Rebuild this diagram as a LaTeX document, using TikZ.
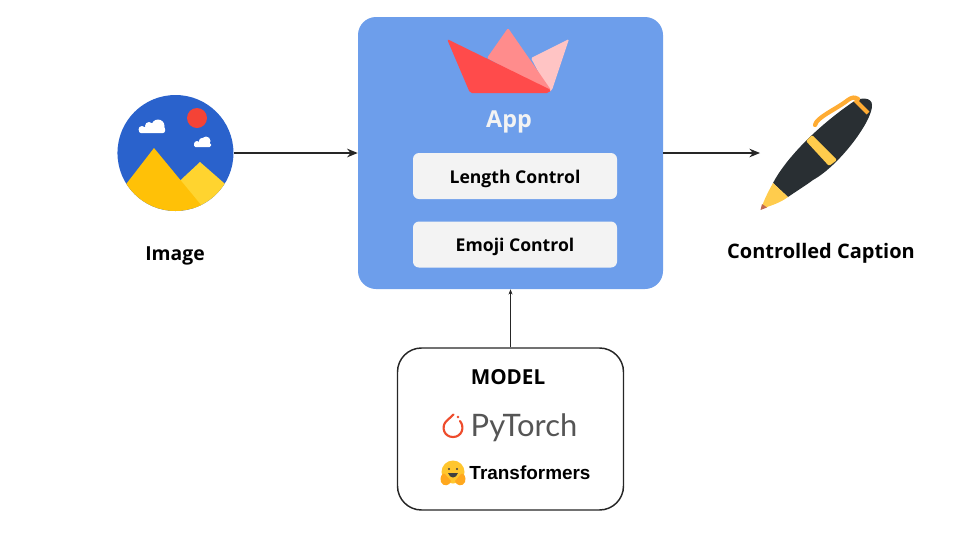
\documentclass[tikz,border=0pt]{standalone}
\usepackage{fontspec}
\setmainfont{Open Sans}
\newfontfamily\torchfont{Lato}
\newfontfamily\hugfont{Liberation Sans}
\usetikzlibrary{positioning,arrows.meta}
\definecolor{appblue}{HTML}{6D9EEB}
\definecolor{ctrlgray}{HTML}{F3F3F3}
\definecolor{skyblue}{HTML}{2A62CC}
\definecolor{sunred}{HTML}{F44336}
\definecolor{hillgold}{HTML}{FFC107}
\definecolor{hilllight}{HTML}{FFD42F}
\definecolor{boatred}{HTML}{FF4B4B}
\definecolor{boatmid}{HTML}{FF8C8C}
\definecolor{boatpale}{HTML}{FFC4C4}
\definecolor{pendark}{HTML}{292F33}
\definecolor{pengold}{HTML}{FFCC4D}
\definecolor{penclip}{HTML}{FFAC33}
\definecolor{pennib}{HTML}{C1694F}
\definecolor{torchred}{HTML}{EE4C2C}
\definecolor{torchgray}{HTML}{555555}
\definecolor{hugyellow}{HTML}{FFC62E}
\definecolor{hughand}{HTML}{FFA81E}
\tikzset{
  boxlabel/.style={font=\bfseries\fontsize{13.2}{16}\selectfont, inner sep=0pt},
  ctrlbox/.style={fill=ctrlgray, rounded corners=4.5pt, minimum width=153pt, minimum height=34.5pt, inner sep=0pt},
  flow/.style={draw=black!85, line width=0.9pt, -{Stealth[length=8pt,width=6.5pt]}},
  thinflow/.style={draw=black!85, line width=0.5pt, -{Stealth[length=4pt,width=3pt]}},
}
\begin{document}
\begin{tikzpicture}[x=0.75pt,y=-0.75pt]
  \useasboundingbox (0,0) rectangle (960,540);

  \node [fill=appblue, rounded corners=13.5pt, minimum width=228.75pt, minimum height=204pt, inner sep=0pt] (app) at (510.5,153) {};
  \node [ctrlbox] (length) at (515,176) {};
  \node [ctrlbox, below=16.5pt of length] (emoji) {};
  \node [boxlabel] (lengthlabel) at (515,179) {Length Control};
  \node [boxlabel] (emojilabel) at (515,247) {Emoji Control};
  \node [font=\bfseries\fontsize{17.5}{20}\selectfont, text=ctrlgray, inner sep=0pt] (applabel) at (509,122) {App};

  % streamlit boat
  \fill [boatpale, rounded corners=1pt] (569,39) -- (531,58) -- (549,92) -- (552,90) -- cycle;
  \fill [boatmid, rounded corners=1pt] (508,28) -- (487,58) -- (549,92) -- (551,90) -- cycle;
  \fill [boatred, rounded corners=1.5pt] (447,39) -- (470,93) -- (549,93) -- (551,90) -- cycle;

  % image icon
  \node [circle, fill=skyblue, minimum size=87pt, inner sep=0pt, left=93pt of app] (image) {};
  \begin{scope}
    \clip (image.center) circle (58);
    \fill [hilllight] (200,162) -- (240,197) -- (215,225) -- (170,190) -- cycle;
    \fill [hillgold] (154,148) -- (110,205) -- (150,240) -- (215,210) -- (201,205) -- cycle;
  \end{scope}
  \fill [sunred] (197,118) circle (10);
  \fill [white, rounded corners=1.5pt] (139,127) rectangle (165,133);
  \fill [white] (142,129.5) circle (3.5) (149,126) circle (4) (158,126) circle (6.5) (161,129) circle (4);
  \fill [white, rounded corners=1pt] (194,143) rectangle (211,147);
  \fill [white] (197,144) circle (3) (202,141) circle (3) (206,141) circle (4.5);
  \node [font=\bfseries\fontsize{14.5}{16}\selectfont, inner sep=0pt] (imagelabel) at (175,256) {Image};

  % pen
  \fill [pendark] (773,183) .. controls (785,160) and (815,128) .. (853,102)
    .. controls (860,97) and (872,97) .. (872,105)
    .. controls (873,120) and (840,165) .. (813,180)
    .. controls (805,186) and (795,192) .. (788,197) -- cycle;
  \fill [pengold] (773,183) -- (788,197) .. controls (780,203) and (770,206) .. (761,209) .. controls (764,200) and (768,192) .. (773,183) -- cycle;
  \fill [pennib] (760.5,210) -- (762,204) -- (767,207.5) -- cycle;
  \fill [pengold, rounded corners=1pt] (806,141) -- (812,135) -- (837,160) -- (829,166) -- cycle;
  \draw [penclip, line width=3.2pt, line cap=round] (815,125) .. controls (817,117) and (835,110) .. (848,100) .. controls (852,97) and (855,97) .. (858,99);
  \draw [penclip, line width=3pt] (855,100) -- (868,113);
  \coordinate (pentip) at (760,153);
  \node [font=\bfseries\fontsize{15}{16}\selectfont, inner sep=0pt] (penlabel) at (821,253) {Controlled Caption};

  % model box
  \node [draw=black!85, line width=1.1pt, fill=white, rounded corners=18pt, minimum width=169.5pt, minimum height=121.5pt, inner sep=0pt, below=43.5pt of app] (model) {};
  \node [font=\bfseries\fontsize{15.5}{16}\selectfont, inner sep=0pt] (modellabel) at (508,377) {MODEL};
  \node [font=\torchfont\fontsize{23.2}{28}\selectfont, text=torchgray, inner sep=0pt] (torchlabel) at (524,428) {PyTorch};
  \node [font=\hugfont\bfseries\fontsize{14.2}{16}\selectfont, inner sep=0pt] (hftext) at (530,473) {Transformers};

  % torch flame
  \draw [torchred, line width=1.6pt, line cap=round] (453.5,414.5) -- (446,421.5) .. controls (441,427) and (444,437) .. (453,437) .. controls (462,437) and (465,427) .. (460,421);
  \fill [torchred] (458,417) circle (1.3);

  % hugging face
  \fill [hugyellow] (453,472) circle (11.5);
  \fill [black!75] (449,469) circle (1.2) (457,469) circle (1.2);
  \fill [black!75] (448,473) .. controls (450,479) and (456,479) .. (458,473) -- cycle;
  \fill [hughand] (441,482) .. controls (439,477) and (443,472) .. (445,474) -- (451,481) .. controls (450,486) and (443,487) .. (441,482) -- cycle;
  \fill [hughand] (465,482) .. controls (467,477) and (463,472) .. (461,474) -- (455,481) .. controls (456,486) and (463,487) .. (465,482) -- cycle;

  \draw [flow] (image) -- (app);
  \draw [flow] (app.east |- pentip) -- (pentip);
  \draw [thinflow] (model) -- (app);
\end{tikzpicture}
\end{document}
